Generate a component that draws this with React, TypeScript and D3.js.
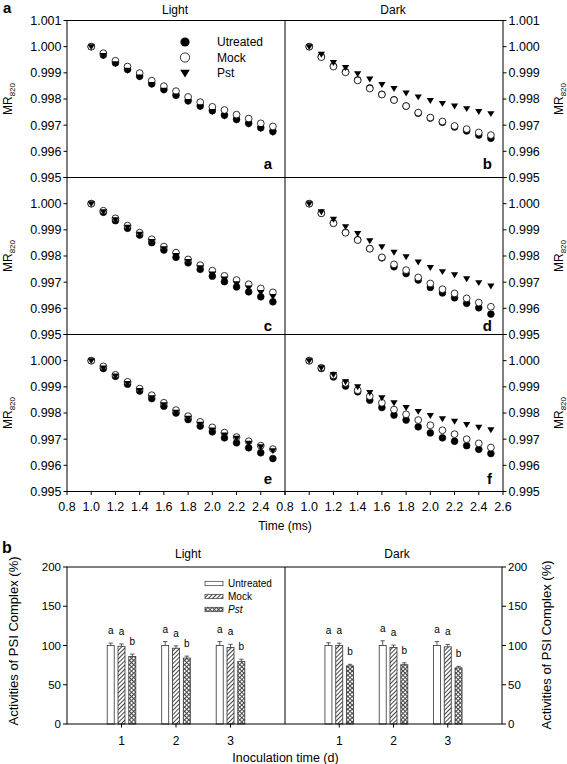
import React from 'react';
import * as d3 from 'd3';

const FONT = "'Liberation Sans', Arial, Helvetica, sans-serif";

// ---------- Part a: MR820 time courses ----------
const times = [1.0, 1.1, 1.2, 1.3, 1.4, 1.5, 1.6, 1.7, 1.8, 1.9, 2.0, 2.1, 2.2, 2.3, 2.4, 2.5];
const seriesNames = ['Utreated', 'Mock', 'Pst'];

// panel a (Light, day 1)
const aUntreated = [1.0, 0.99968, 0.99938, 0.99913, 0.99887, 0.99858, 0.99836, 0.99814, 0.99793, 0.99773, 0.99755, 0.99738, 0.99722, 0.99707, 0.9969, 0.99676];
const aMock = [1.0, 0.99975, 0.99946, 0.99924, 0.99899, 0.9987, 0.99849, 0.9983, 0.99808, 0.99788, 0.9977, 0.99758, 0.9974, 0.99725, 0.99707, 0.99695];
const aPst = [1.0, 0.99966, 0.99935, 0.9991, 0.99884, 0.99855, 0.99833, 0.99811, 0.9979, 0.9977, 0.99752, 0.99735, 0.99719, 0.99704, 0.99687, 0.99672];
// panel b (Dark, day 1)
const bUntreated = [1.0, 0.99962, 0.99926, 0.99904, 0.99873, 0.99842, 0.99818, 0.99797, 0.99773, 0.99746, 0.99727, 0.99711, 0.99693, 0.99678, 0.99662, 0.9965];
const bMock = [1.0, 0.9996, 0.99924, 0.99902, 0.99871, 0.9984, 0.99817, 0.99796, 0.99773, 0.99748, 0.99729, 0.99714, 0.99697, 0.99685, 0.99672, 0.99662];
const bPst = [1.0, 0.99971, 0.99939, 0.9992, 0.99896, 0.99876, 0.99855, 0.9984, 0.99823, 0.99808, 0.99794, 0.99783, 0.99773, 0.99763, 0.99752, 0.99744];
// panel c (Light, day 2)
const cUntreated = [1.0, 0.99967, 0.99935, 0.99906, 0.9988, 0.99851, 0.99823, 0.99795, 0.99774, 0.99749, 0.99723, 0.99702, 0.99682, 0.99663, 0.99644, 0.99625];
const cMock = [1.0, 0.99973, 0.99944, 0.99916, 0.99889, 0.99864, 0.99836, 0.99813, 0.99787, 0.99765, 0.99744, 0.99724, 0.99708, 0.99692, 0.99676, 0.99661];
const cPst = [1.0, 0.99969, 0.99938, 0.9991, 0.99883, 0.99855, 0.99828, 0.99802, 0.99779, 0.99755, 0.99731, 0.99712, 0.99694, 0.99678, 0.9966, 0.99645];
// panel d (Dark, day 2)
const dUntreated = [1.0, 0.99964, 0.99926, 0.9989, 0.99862, 0.99828, 0.99793, 0.99759, 0.99733, 0.99708, 0.9968, 0.99659, 0.9964, 0.99619, 0.99602, 0.99578];
const dMock = [1.0, 0.99963, 0.99925, 0.99889, 0.99861, 0.99828, 0.99795, 0.99768, 0.99746, 0.99718, 0.99695, 0.99673, 0.99657, 0.99638, 0.99622, 0.99606];
const dPst = [1.0, 0.99969, 0.9994, 0.99912, 0.99886, 0.99858, 0.99835, 0.99814, 0.99797, 0.99777, 0.99756, 0.9974, 0.99728, 0.99713, 0.99698, 0.99685];
// panel e (Light, day 3)
const eUntreated = [1.0, 0.9997, 0.9994, 0.9991, 0.99884, 0.99855, 0.99826, 0.998, 0.99775, 0.9975, 0.99728, 0.99705, 0.99686, 0.99667, 0.99648, 0.99626];
const eMock = [1.0, 0.99978, 0.99946, 0.99919, 0.99893, 0.99868, 0.99839, 0.99811, 0.99788, 0.99766, 0.99745, 0.99725, 0.99708, 0.99692, 0.99675, 0.99662];
const ePst = [1.0, 0.99972, 0.99941, 0.99913, 0.99886, 0.99858, 0.99831, 0.99803, 0.9978, 0.99757, 0.99735, 0.99716, 0.99703, 0.99684, 0.99671, 0.99656];
// panel f (Dark, day 3)
const fUntreated = [1.0, 0.9997, 0.99938, 0.99903, 0.99881, 0.99849, 0.99821, 0.99792, 0.99773, 0.99747, 0.99724, 0.99705, 0.99692, 0.99675, 0.99661, 0.99645];
const fMock = [1.0, 0.99973, 0.99944, 0.99915, 0.99887, 0.99864, 0.99839, 0.99813, 0.99795, 0.99773, 0.99753, 0.99734, 0.99719, 0.997, 0.99684, 0.99668];
const fPst = [1.0, 0.99973, 0.99947, 0.99919, 0.999, 0.99878, 0.99858, 0.99839, 0.99821, 0.99806, 0.9979, 0.99778, 0.99768, 0.99756, 0.99745, 0.99736];

const xTickValues = [0.8, 1.0, 1.2, 1.4, 1.6, 1.8, 2.0, 2.2, 2.4, 2.6];
const yTickValues = [0.995, 0.996, 0.997, 0.998, 0.999, 1.0, 1.001];

// ---------- Part b: PSI activity bars ----------
const days = [1, 2, 3];
const barNames = ['Untreated', 'Mock', 'Pst'];
const lightUntreated = [100, 100, 100];
const lightUntreatedErr = [3, 5, 5];
const lightMock = [99, 96.5, 97.5];
const lightMockErr = [3, 3, 4];
const lightPst = [86, 84, 79.5];
const lightPstErr = [3, 2.5, 3];
const darkUntreated = [100, 100, 100];
const darkUntreatedErr = [3.5, 6, 5];
const darkMock = [100, 97.5, 98.3];
const darkMockErr = [3, 3, 3];
const darkPst = [74, 75.5, 71.5];
const darkPstErr = [2, 2.5, 2];
const sigLetters = ['a', 'a', 'b'];
const barTickValues = [0, 50, 100, 150, 200];

function tri(x: number, y: number, s: number) {
  return `M${x - s},${y - s * 0.7}L${x + s},${y - s * 0.7}L${x},${y + s * 0.95}Z`;
}

export default function App() {
  const W = 567, H = 764;
  const L = 67, M = 285, R = 503;
  const rowTops = [20.5, 177.5, 334.5];
  const rowH = 157;
  const xs = [
    d3.scaleLinear().domain([0.8, 2.6]).range([L, M]),
    d3.scaleLinear().domain([0.8, 2.6]).range([M, R]),
  ];
  const ys = rowTops.map((t) => d3.scaleLinear().domain([0.995, 1.001]).range([t + rowH, t]));
  const bottomY = rowTops[2] + rowH;

  const panels = [
    { col: 0, row: 0, letter: 'a', lb: 168.5, u: aUntreated, m: aMock, p: aPst },
    { col: 1, row: 0, letter: 'b', lb: 168.5, u: bUntreated, m: bMock, p: bPst },
    { col: 0, row: 1, letter: 'c', lb: 331, u: cUntreated, m: cMock, p: cPst },
    { col: 1, row: 1, letter: 'd', lb: 331, u: dUntreated, m: dMock, p: dPst },
    { col: 0, row: 2, letter: 'e', lb: 484, u: eUntreated, m: eMock, p: ePst },
    { col: 1, row: 2, letter: 'f', lb: 484, u: fUntreated, m: fMock, p: fPst },
  ];

  // bar chart scales
  const bTop = 567, bBot = 724;
  const bR = 502;
  const bxs = [
    d3.scaleLinear().domain([0, 4]).range([L, M]),
    d3.scaleLinear().domain([0, 4]).range([M, bR]),
  ];
  const by = d3.scaleLinear().domain([0, 200]).range([bBot, bTop]);
  const barSets = [
    [
      { v: lightUntreated, e: lightUntreatedErr, fill: '#fff' },
      { v: lightMock, e: lightMockErr, fill: 'url(#hatch)' },
      { v: lightPst, e: lightPstErr, fill: 'url(#cross)' },
    ],
    [
      { v: darkUntreated, e: darkUntreatedErr, fill: '#fff' },
      { v: darkMock, e: darkMockErr, fill: 'url(#hatch)' },
      { v: darkPst, e: darkPstErr, fill: 'url(#cross)' },
    ],
  ];
  const offsets = [-10.8, 0, 10.8];
  const bw = 7;
  const legendFills = ['#fff', 'url(#hatch)', 'url(#cross)'];

  const mrLabel = (x: number, y: number, key: string) => (
    <text key={key} transform={`translate(${x},${y}) rotate(-90)`} textAnchor="middle" fontSize={12} fontFamily={FONT}>
      MR<tspan fontSize={8} dy={3}>820</tspan>
    </text>
  );

  return (
    <svg width={W} height={H} style={{ position: 'absolute', left: 0, top: 0, background: '#fff' }} fontFamily={FONT}>
      <defs>
        <pattern id="hatch" width={3} height={3} patternUnits="userSpaceOnUse" patternTransform="rotate(45)">
          <rect width={3} height={3} fill="#fff" />
          <line x1={0.5} y1={0} x2={0.5} y2={3} stroke="#444" strokeWidth={1} />
        </pattern>
        <pattern id="cross" width={3} height={3} patternUnits="userSpaceOnUse" patternTransform="rotate(45)">
          <rect width={3} height={3} fill="#fff" />
          <line x1={0.5} y1={0} x2={0.5} y2={3} stroke="#444" strokeWidth={1} />
          <line x1={0} y1={0.5} x2={3} y2={0.5} stroke="#444" strokeWidth={1} />
        </pattern>
      </defs>
      <rect x={0} y={0} width={W} height={H} fill="#fff" />

      {/* ===== Part a ===== */}
      <text x={3} y={13} fontSize={15} fontWeight="bold">a</text>
      <text x={175} y={13.5} fontSize={12} textAnchor="middle">Light</text>
      <text x={393} y={13.5} fontSize={12} textAnchor="middle">Dark</text>

      {/* points */}
      {panels.map((pn) => {
        const x = xs[pn.col];
        const y = ys[pn.row];
        return (
          <g key={pn.letter}>
            {pn.u.map((v, i) => (
              <circle key={'u' + i} cx={x(times[i])} cy={y(v)} r={3.4} fill="#000" stroke="#000" strokeWidth={0.6} />
            ))}
            {pn.m.map((v, i) => (
              <circle key={'m' + i} cx={x(times[i])} cy={y(v)} r={3.4} fill="#fff" stroke="#000" strokeWidth={0.8} />
            ))}
            {pn.p.map((v, i) => (
              <path key={'p' + i} d={tri(x(times[i]), y(v), 3.6)} fill="#000" />
            ))}
            <text x={pn.col === 0 ? 272 : 492} y={pn.lb} fontSize={15} fontWeight="bold" textAnchor="end">
              {pn.letter}
            </text>
          </g>
        );
      })}

      {/* legend in panel a */}
      {seriesNames.map((n, i) => {
        const ly = [42, 57.5, 73][i];
        return (
          <g key={n}>
            {i === 0 && <circle cx={185} cy={ly} r={4.6} fill="#000" />}
            {i === 1 && <circle cx={185} cy={ly} r={4.6} fill="#fff" stroke="#000" strokeWidth={0.8} />}
            {i === 2 && <path d={tri(185, ly, 4.8)} fill="#000" />}
            <text x={217} y={ly + 4.3} fontSize={12}>{n}</text>
          </g>
        );
      })}

      {/* frame */}
      <rect x={L} y={rowTops[0]} width={R - L} height={bottomY - rowTops[0]} fill="none" stroke="#000" strokeWidth={1} />
      <line x1={M} x2={M} y1={rowTops[0]} y2={bottomY} stroke="#000" strokeWidth={1} />
      <line x1={L} x2={R} y1={rowTops[1]} y2={rowTops[1]} stroke="#000" strokeWidth={1} />
      <line x1={L} x2={R} y1={rowTops[2]} y2={rowTops[2]} stroke="#000" strokeWidth={1} />

      {/* y ticks */}
      {ys.map((y, r) => (
        <g key={'yt' + r}>
          {yTickValues.map((t) => (
            <g key={t}>
              <line x1={L - 3.5} x2={L} y1={y(t)} y2={y(t)} stroke="#000" />
              <line x1={R} x2={R + 3.5} y1={y(t)} y2={y(t)} stroke="#000" />
              {(r === 0 || t < 1.0005) && (
                <>
                  <text x={L - 5.5} y={y(t) + 4.4} fontSize={12.5} textAnchor="end">{d3.format('.3f')(t)}</text>
                  <text x={R + 5.5} y={y(t) + 4.4} fontSize={12.5} textAnchor="start">{d3.format('.3f')(t)}</text>
                </>
              )}
            </g>
          ))}
          {mrLabel(11.5, (rowTops[r] + rowH / 2), 'mrl' + r)}
          {mrLabel(563, (rowTops[r] + rowH / 2), 'mrr' + r)}
        </g>
      ))}

      {/* x ticks */}
      {xs.map((x, c) => (
        <g key={'xt' + c}>
          {xTickValues.map((t) => (
            <g key={t}>
              <line x1={x(t)} x2={x(t)} y1={bottomY} y2={bottomY + 3.5} stroke="#000" />
              {(c === 1 || t < 2.5) && (
                <text x={x(t)} y={bottomY + 19.5} fontSize={12.5} textAnchor="middle">{d3.format('.1f')(t)}</text>
              )}
            </g>
          ))}
        </g>
      ))}
      <text x={285} y={530} fontSize={12} textAnchor="middle">Time (ms)</text>

      {/* ===== Part b ===== */}
      <text x={2} y={553} fontSize={16} fontWeight="bold">b</text>
      <text x={188} y={558} fontSize={12} textAnchor="middle">Light</text>
      <text x={397} y={558} fontSize={12} textAnchor="middle">Dark</text>

      {barSets.map((set, c) => (
        <g key={'bars' + c}>
          {set.map((s, k) =>
            days.map((d, i) => {
              const cx = bxs[c](d) + offsets[k];
              const top = by(s.v[i]);
              const et = by(s.v[i] + s.e[i]);
              return (
                <g key={k + '-' + i}>
                  <rect x={cx - bw / 2} y={top} width={bw} height={bBot - top} fill={s.fill} stroke="#333" strokeWidth={0.8} />
                  <line x1={cx} x2={cx} y1={top} y2={et} stroke="#333" strokeWidth={0.8} />
                  <line x1={cx - 2.2} x2={cx + 2.2} y1={et} y2={et} stroke="#333" strokeWidth={0.8} />
                  <text x={cx} y={et - 9} fontSize={10} textAnchor="middle">{sigLetters[k]}</text>
                </g>
              );
            })
          )}
        </g>
      ))}

      {/* bar legend */}
      {barNames.map((n, i) => {
        const ly = [583.5, 596.5, 609.5][i];
        return (
          <g key={n}>
            <rect x={205} y={ly - 2.2} width={18} height={4.4} fill={legendFills[i]} stroke="#333" strokeWidth={0.7} />
            <text x={228} y={ly + 3.6} fontSize={10} fontStyle={i === 2 ? 'italic' : 'normal'}>{n}</text>
          </g>
        );
      })}

      {/* bar frame */}
      <rect x={L} y={bTop} width={bR - L} height={bBot - bTop} fill="none" stroke="#000" strokeWidth={1} />
      <line x1={M} x2={M} y1={bTop} y2={bBot} stroke="#000" strokeWidth={1} />
      {barTickValues.map((t) => (
        <g key={'bt' + t}>
          <line x1={L - 4} x2={L} y1={by(t)} y2={by(t)} stroke="#000" />
          <line x1={bR} x2={bR + 4} y1={by(t)} y2={by(t)} stroke="#000" />
          <text x={L - 6} y={by(t) + 4} fontSize={11.5} textAnchor="end">{t}</text>
          <text x={bR + 6} y={by(t) + 4} fontSize={11.5} textAnchor="start">{t}</text>
        </g>
      ))}
      {bxs.map((x, c) =>
        days.map((d) => (
          <g key={'bx' + c + d}>
            <line x1={x(d)} x2={x(d)} y1={bBot} y2={bBot + 3.5} stroke="#000" />
            <text x={x(d)} y={745} fontSize={12} textAnchor="middle">{d}</text>
          </g>
        ))
      )}
      <text x={285.5} y={762} fontSize={12.5} textAnchor="middle">Inoculation time (d)</text>
      <text transform={`translate(17.5,641) rotate(-90)`} fontSize={13} textAnchor="middle">Activities of PSI Complex (%)</text>
      <text transform={`translate(551,645) rotate(-90)`} fontSize={13} textAnchor="middle">Activities of PSI Complex (%)</text>
    </svg>
  );
}
